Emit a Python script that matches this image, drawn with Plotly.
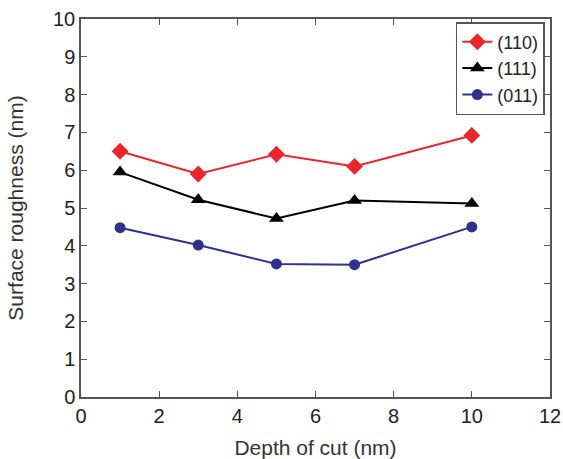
import plotly.graph_objects as go

depth = [1, 3, 5, 7, 10]
r110 = [6.5, 5.9, 6.42, 6.1, 6.92]
r111 = [5.95, 5.22, 4.72, 5.2, 5.12]
r011 = [4.48, 4.02, 3.52, 3.5, 4.5]

fig = go.Figure()
fig.add_trace(go.Scatter(x=depth, y=r110, name="(110)", mode="lines+markers",
                         line=dict(color="#e8262b", width=2),
                         marker=dict(symbol="diamond", size=13, color="#e8262b")))
fig.add_trace(go.Scatter(x=depth, y=r111, name="(111)", mode="lines+markers",
                         line=dict(color="#000000", width=2),
                         marker=dict(symbol="triangle-up", size=13, color="#000000")))
fig.add_trace(go.Scatter(x=depth, y=r011, name="(011)", mode="lines+markers",
                         line=dict(color="#2e3192", width=2),
                         marker=dict(symbol="circle", size=11, color="#2e3192")))

axis_common = dict(showgrid=False, zeroline=False, showline=True, linecolor="#555555",
                   linewidth=1.5, mirror="ticks", ticks="inside", ticklen=6,
                   tickcolor="#555555", tickfont=dict(size=20, color="#222222"),
                   title_font=dict(size=21, color="#333333"), automargin=False,
                   ticklabeloverflow="allow")
fig.update_xaxes(range=[0, 12], tickvals=[0, 2, 4, 6, 8, 10, 12],
                 title_text="Depth of cut (nm)", title_standoff=16, **axis_common)
fig.update_yaxes(range=[0, 10], tickvals=list(range(11)),
                 title_text="Surface roughness (nm)", title_standoff=24, **axis_common)

fig.update_layout(width=563, height=459, template="none",
                  paper_bgcolor="white", plot_bgcolor="white",
                  font=dict(family="Liberation Sans, Arial, sans-serif", color="#333333"),
                  margin=dict(l=81, r=13, t=19, b=62),
                  showlegend=True,
                  legend=dict(x=0.989, y=0.992, xanchor="right", yanchor="top",
                              bordercolor="#555555", borderwidth=1.5, bgcolor="white",
                              font=dict(size=18, color="#222222"),
                              tracegroupgap=0, itemwidth=30))
fig.write_html("out.html", config={"displayModeBar": False},
               post_script="document.body.style.margin='0';document.body.style.overflow='hidden';")
